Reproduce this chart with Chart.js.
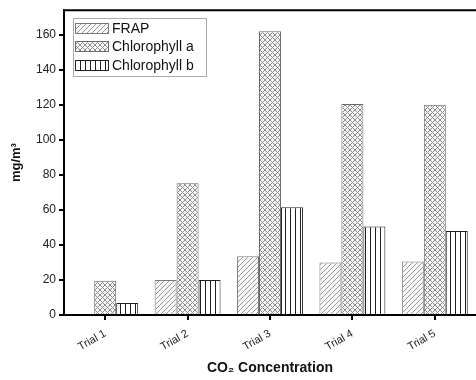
<!DOCTYPE html>
<html>
<head>
<meta charset="utf-8">
<script src="https://cdn.jsdelivr.net/npm/chart.js@4/dist/chart.umd.min.js"></script>
<style>
  html, body { margin: 0; padding: 0; background: #fff; }
  #wrap { width: 476px; height: 380px; }
</style>
</head>
<body>
<div id="wrap"><canvas id="chart" width="476" height="380"></canvas></div>
<script>
const trials = ["Trial 1", "Trial 2", "Trial 3", "Trial 4", "Trial 5"];
const frap = [0, 20, 33.5, 30, 30.5];
const chlA = [19.5, 75.2, 162, 120.5, 120];
const chlB = [6.8, 20, 61.5, 50.5, 48];
const seriesNames = ["FRAP", "Chlorophyll a", "Chlorophyll b"];
const yTicks = [0, 20, 40, 60, 80, 100, 120, 140, 160];

function makePattern(kind) {
  const s = 5;
  const c = document.createElement("canvas");
  c.width = s; c.height = s;
  const g = c.getContext("2d");
  g.fillStyle = kind === "vert" ? "#fff" : "#f8f8f8";
  g.fillRect(0, 0, s, s);
  g.lineWidth = 1;
  if (kind === "diag" || kind === "cross") {
    g.strokeStyle = kind === "diag" ? "#9a9a9a" : "#8e8e8e";
    g.beginPath();
    g.moveTo(0, s); g.lineTo(s, 0);
    g.moveTo(-1, 1); g.lineTo(1, -1);
    g.moveTo(s - 1, s + 1); g.lineTo(s + 1, s - 1);
    g.stroke();
  }
  if (kind === "cross") {
    g.beginPath();
    g.moveTo(0, 0); g.lineTo(s, s);
    g.moveTo(s - 1, -1); g.lineTo(s + 1, 1);
    g.moveTo(-1, s - 1); g.lineTo(1, s + 1);
    g.stroke();
  }
  if (kind === "vert") {
    g.strokeStyle = "#222";
    g.beginPath();
    g.moveTo(0.5, 0); g.lineTo(0.5, s);
    g.stroke();
  }
  return g.createPattern(c, "repeat");
}

const fills = [makePattern("diag"), makePattern("cross"), makePattern("vert")];
const borders = ["#7a7a7a", "#6a6a6a", "#222"];

const frameAndLegend = {
  id: "frameAndLegend",
  afterDraw(chart) {
    const ctx = chart.ctx;
    const a = chart.chartArea;
    ctx.save();
    ctx.strokeStyle = "#000";
    ctx.lineWidth = 2;
    ctx.beginPath();
    ctx.moveTo(a.left, a.top);
    ctx.lineTo(a.right, a.top);
    ctx.stroke();

    // legend box
    const bx = 73, by = 18, bw = 133, bh = 58;
    ctx.fillStyle = "#fff";
    ctx.fillRect(bx, by, bw, bh);
    ctx.strokeStyle = "#aaa";
    ctx.lineWidth = 1;
    ctx.strokeRect(bx + 0.5, by + 0.5, bw, bh);
    const rows = [28, 46, 65];
    ctx.font = "14px 'Liberation Sans', Arial, sans-serif";
    ctx.textBaseline = "middle";
    seriesNames.forEach((name, i) => {
      ctx.fillStyle = fills[i];
      ctx.fillRect(75, rows[i] - 5, 33, 11);
      ctx.strokeStyle = borders[i];
      ctx.strokeRect(75.5, rows[i] - 4.5, 33, 10);
      ctx.fillStyle = "#111";
      ctx.fillText(name, 112, rows[i] + 1);
    });
    ctx.restore();
  }
};

new Chart(document.getElementById("chart"), {
  type: "bar",
  data: {
    labels: trials,
    datasets: [
      { label: seriesNames[0], data: frap, backgroundColor: fills[0], borderColor: borders[0], borderWidth: 1 },
      { label: seriesNames[1], data: chlA, backgroundColor: fills[1], borderColor: borders[1], borderWidth: 1 },
      { label: seriesNames[2], data: chlB, backgroundColor: fills[2], borderColor: borders[2], borderWidth: 1 },
    ],
  },
  options: {
    responsive: false,
    animation: false,
    datasets: { bar: { categoryPercentage: 0.8, barPercentage: 1.0 } },
    layout: { padding: { top: 9, right: 0, left: 0, bottom: 0 } },
    plugins: { legend: { display: false }, tooltip: { enabled: false } },
    scales: {
      x: {
        grid: { display: true, drawOnChartArea: false, drawTicks: true, tickLength: 5, offset: false, color: "#000", lineWidth: 2 },
        border: { display: true, color: "#000", width: 2 },
        ticks: { minRotation: 30, maxRotation: 30, color: "#222", padding: 7, font: { family: "'Liberation Sans', Arial, sans-serif", size: 11 } },
        title: { display: true, text: "CO₂ Concentration", color: "#111", padding: { top: 4, bottom: 3 }, font: { family: "'Liberation Sans', Arial, sans-serif", size: 14, weight: "bold" } },
        afterFit: (s) => { s.height = 65; },
      },
      y: {
        min: 0,
        max: 174,
        afterBuildTicks: (s) => { s.ticks = yTicks.map((v) => ({ value: v })); },
        grid: { display: true, drawOnChartArea: false, drawTicks: true, tickLength: 5, color: "#000", lineWidth: 2 },
        border: { display: true, color: "#000", width: 2 },
        ticks: { color: "#222", padding: 3, font: { family: "'Liberation Sans', Arial, sans-serif", size: 12 } },
        title: { display: true, text: "mg/m³", color: "#111", padding: { top: 9, bottom: 4 }, font: { family: "'Liberation Sans', Arial, sans-serif", size: 13, weight: "bold" } },
        afterFit: (s) => { s.width = 64; },
      },
    },
  },
  plugins: [frameAndLegend],
});
</script>
</body>
</html>
